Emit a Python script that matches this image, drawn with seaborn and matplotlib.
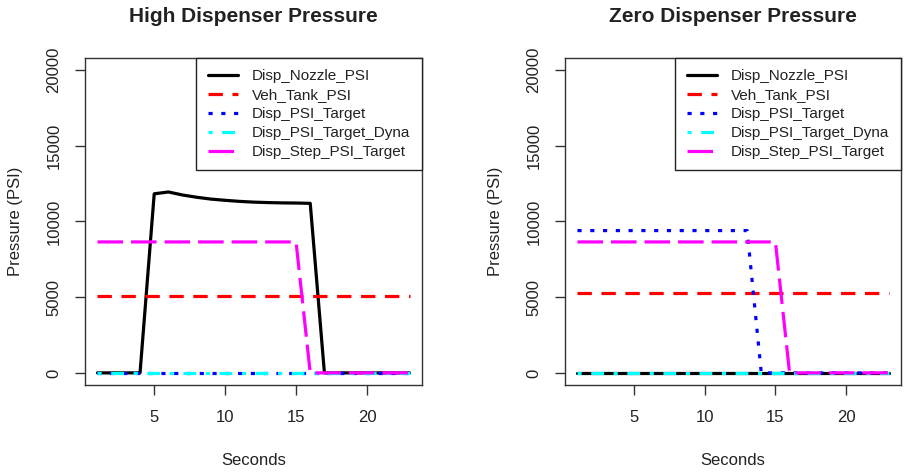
import pandas as pd
import matplotlib.pyplot as plt
import seaborn as sns

# Style: plain R-like base graphics look
sns.set_theme(style="ticks")
plt.rcParams['font.family'] = ['Liberation Sans', 'DejaVu Sans']
plt.rcParams['text.color'] = '#222222'
plt.rcParams['axes.labelcolor'] = '#222222'
plt.rcParams['xtick.color'] = '#222222'
plt.rcParams['ytick.color'] = '#222222'

# Data
seconds = [1, 2, 3, 4, 5, 6, 7, 8, 9, 10, 11, 12, 13, 14, 15, 16, 17, 18, 19, 20, 21, 22, 23]

series_names = ['Disp_Nozzle_PSI', 'Veh_Tank_PSI', 'Disp_PSI_Target',
                'Disp_PSI_Target_Dyna', 'Disp_Step_PSI_Target']

# High dispenser pressure panel
high_nozzle = [0, 0, 0, 0, 11830, 11950, 11750, 11600, 11480, 11400, 11330, 11280,
               11250, 11230, 11220, 11200, 0, 0, 0, 0, 0, 0, 0]
high_tank = [5100, 5100, 5100, 5100, 5100, 5100, 5100, 5100, 5100, 5100, 5100, 5100,
             5100, 5100, 5100, 5100, 5100, 5100, 5100, 5100, 5100, 5100, 5100]
high_target = [0, 0, 0, 0, 0, 0, 0, 0, 0, 0, 0, 0, 0, 0, 0, 0, 0, 0, 0, 0, 0, 0, 0]
high_target_dyna = [0, 0, 0, 0, 0, 0, 0, 0, 0, 0, 0, 0, 0, 0, 0, 0, 0, 0, 0, 0, 0, 0, 0]
high_step_target = [8650, 8650, 8650, 8650, 8650, 8650, 8650, 8650, 8650, 8650, 8650, 8650,
                    8650, 8650, 8650, 0, 0, 0, 0, 0, 0, 0, 0]

# Zero dispenser pressure panel
zero_nozzle = [0, 0, 0, 0, 0, 0, 0, 0, 0, 0, 0, 0, 0, 0, 0, 0, 0, 0, 0, 0, 0, 0, 0]
zero_tank = [5250, 5250, 5250, 5250, 5250, 5250, 5250, 5250, 5250, 5250, 5250, 5250,
             5250, 5250, 5250, 5250, 5250, 5250, 5250, 5250, 5250, 5250, 5250]
zero_target = [9400, 9400, 9400, 9400, 9400, 9400, 9400, 9400, 9400, 9400, 9400, 9400,
               9400, 0, 0, 0, 0, 0, 0, 0, 0, 0, 0]
zero_target_dyna = [0, 0, 0, 0, 0, 0, 0, 0, 0, 0, 0, 0, 0, 0, 0, 0, 0, 0, 0, 0, 0, 0, 0]
zero_step_target = [8650, 8650, 8650, 8650, 8650, 8650, 8650, 8650, 8650, 8650, 8650, 8650,
                    8650, 8650, 8650, 0, 0, 0, 0, 0, 0, 0, 0]

x_ticks = [5, 10, 15, 20]
y_ticks = [0, 5000, 10000, 15000, 20000]

colors = {
    'Disp_Nozzle_PSI': 'black',
    'Veh_Tank_PSI': '#ff0000',
    'Disp_PSI_Target': '#0000ff',
    'Disp_PSI_Target_Dyna': '#00ffff',
    'Disp_Step_PSI_Target': '#ff00ff',
}
dash_map = {
    'Disp_Nozzle_PSI': '',
    'Veh_Tank_PSI': (4.5, 3),
    'Disp_PSI_Target': (1.3, 2.7),
    'Disp_PSI_Target_Dyna': (1.3, 3, 4, 3),
    'Disp_Step_PSI_Target': (8, 2.5),
}


def to_long(values):
    frames = []
    for name, vals in zip(series_names, values):
        frames.append(pd.DataFrame({'Seconds': seconds, 'PSI': vals, 'Series': name}))
    return pd.concat(frames, ignore_index=True)


high_df = to_long([high_nozzle, high_tank, high_target, high_target_dyna, high_step_target])
zero_df = to_long([zero_nozzle, zero_tank, zero_target, zero_target_dyna, zero_step_target])

fig = plt.figure(figsize=(9.06, 4.74), dpi=100)
ax1 = fig.add_axes([85 / 906, 1 - 385 / 474, 337 / 906, 327 / 474])
ax2 = fig.add_axes([565 / 906, 1 - 385 / 474, 336 / 906, 327 / 474])

for ax, df, title in [(ax1, high_df, 'High Dispenser Pressure'),
                      (ax2, zero_df, 'Zero Dispenser Pressure')]:
    sns.lineplot(data=df, x='Seconds', y='PSI', hue='Series', style='Series',
                 hue_order=series_names, style_order=series_names,
                 palette=colors, dashes=dash_map, linewidth=2.3, ax=ax)

    ax.set_xlim(0.12, 23.88)
    ax.set_ylim(-800, 20800)
    ax.set_xticks(x_ticks)
    ax.set_yticks(y_ticks)
    ax.set_xticklabels([str(t) for t in x_ticks])
    ax.set_yticklabels([str(t) for t in y_ticks])
    ax.tick_params(axis='both', labelsize=12, length=7, width=1, color='#333333')
    ax.tick_params(axis='x', pad=11)
    ax.tick_params(axis='y', pad=10)
    plt.setp(ax.get_yticklabels(), rotation=90, va='center')

    for spine in ax.spines.values():
        spine.set_visible(True)
        spine.set_color('#333333')
        spine.set_linewidth(1)

    ax.set_xlabel('Seconds', fontsize=12, labelpad=20)
    ax.set_ylabel('Pressure (PSI)', fontsize=12, labelpad=17)
    ax.set_title(title, fontsize=15, fontweight='bold', pad=26)

    handles, labels = ax.get_legend_handles_labels()
    ax.legend(handles, labels, loc='upper right', bbox_to_anchor=(1, 1),
              borderaxespad=0, frameon=True, fancybox=False, framealpha=1,
              edgecolor='#222222', fontsize=11, handlelength=2.0,
              handletextpad=0.9, labelspacing=0.32, borderpad=0.75)
    ax.get_legend().get_frame().set_linewidth(1)

plt.savefig('out.png', dpi=100)
